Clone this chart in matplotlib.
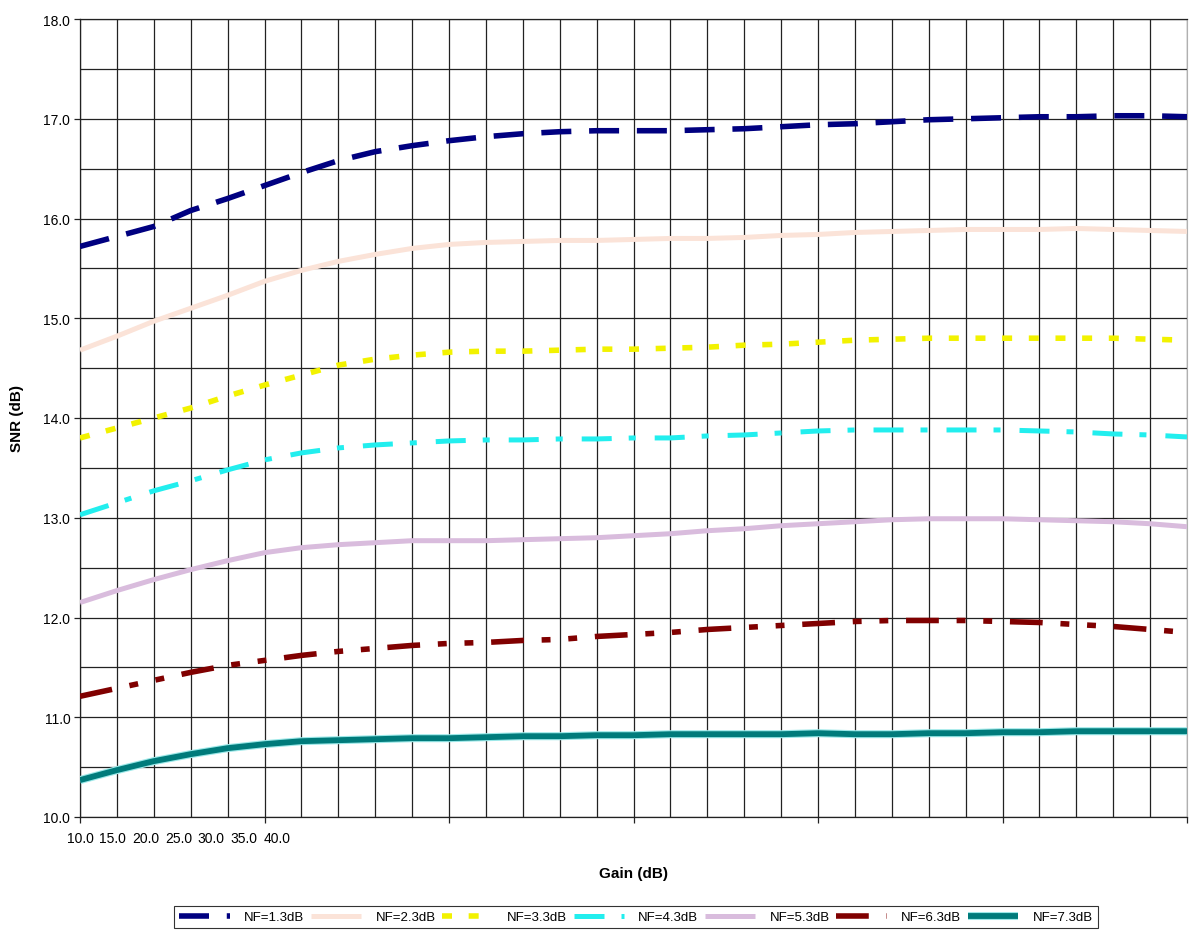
import numpy as np
import matplotlib
matplotlib.use("Agg")
from matplotlib import pyplot as plt
from matplotlib import patheffects as pe

plt.rcParams['font.family'] = ['Liberation Sans', 'DejaVu Sans']

# gain categories (only the first seven carry a label in the original)
gain = [10.0 + 5.0 * i for i in range(31)]
gain_labels = ["10.0", "15.0", "20.0", "25.0", "30.0", "35.0", "40.0"]

# SNR (dB), one list per noise figure
nf_1_3 = [15.72, 15.82, 15.92, 16.08, 16.20, 16.33, 16.46, 16.58, 16.67, 16.73, 16.78,
          16.82, 16.85, 16.87, 16.88, 16.88, 16.88, 16.89, 16.90, 16.92, 16.94,
          16.95, 16.97, 16.99, 17.00, 17.01, 17.02, 17.02, 17.03, 17.03, 17.02]
nf_2_3 = [14.68, 14.82, 14.97, 15.10, 15.23, 15.37, 15.48, 15.57, 15.64, 15.70, 15.74,
          15.76, 15.77, 15.78, 15.78, 15.79, 15.80, 15.80, 15.81, 15.83, 15.84,
          15.86, 15.87, 15.88, 15.89, 15.89, 15.89, 15.90, 15.89, 15.88, 15.87]
nf_3_3 = [13.80, 13.90, 14.00, 14.10, 14.22, 14.33, 14.43, 14.53, 14.59, 14.63, 14.66,
          14.67, 14.67, 14.68, 14.69, 14.69, 14.70, 14.71, 14.73, 14.74, 14.76,
          14.78, 14.79, 14.80, 14.80, 14.80, 14.80, 14.80, 14.80, 14.79, 14.78]
nf_4_3 = [13.03, 13.15, 13.27, 13.37, 13.48, 13.58, 13.65, 13.70, 13.73, 13.75, 13.77,
          13.78, 13.78, 13.79, 13.79, 13.80, 13.80, 13.82, 13.83, 13.85, 13.87,
          13.88, 13.88, 13.88, 13.88, 13.88, 13.87, 13.86, 13.84, 13.83, 13.81]
nf_5_3 = [12.15, 12.27, 12.38, 12.48, 12.57, 12.65, 12.70, 12.73, 12.75, 12.77, 12.77,
          12.77, 12.78, 12.79, 12.80, 12.82, 12.84, 12.87, 12.89, 12.92, 12.94,
          12.96, 12.98, 12.99, 12.99, 12.99, 12.98, 12.97, 12.96, 12.94, 12.91]
nf_6_3 = [11.21, 11.29, 11.37, 11.45, 11.52, 11.57, 11.62, 11.66, 11.69, 11.72, 11.74,
          11.75, 11.77, 11.78, 11.81, 11.83, 11.85, 11.88, 11.90, 11.92, 11.94,
          11.96, 11.97, 11.97, 11.97, 11.96, 11.95, 11.93, 11.91, 11.88, 11.85]
nf_7_3 = [10.37, 10.47, 10.56, 10.63, 10.69, 10.73, 10.76, 10.77, 10.78, 10.79, 10.79,
          10.80, 10.81, 10.81, 10.82, 10.82, 10.83, 10.83, 10.83, 10.83, 10.84,
          10.83, 10.83, 10.84, 10.84, 10.85, 10.85, 10.86, 10.86, 10.86, 10.86]

series = [
    ("NF=1.3dB", nf_1_3, "#000080", 4.0, (0, (5.4, 3.2))),
    ("NF=2.3dB", nf_2_3, "#FBE3D8", 3.6, "-"),
    ("NF=3.3dB", nf_3_3, "#F2F200", 4.0, (0, (1.8, 3.0))),
    ("NF=4.3dB", nf_4_3, "#22EEEE", 3.6, (0, (6.0, 3.4, 1.4, 3.8))),
    ("NF=5.3dB", nf_5_3, "#D9BCDD", 3.6, "-"),
    ("NF=6.3dB", nf_6_3, "#800000", 4.0, (0, (5.9, 3.2, 1.6, 3.2, 1.6, 3.2))),
    ("NF=7.3dB", nf_7_3, "#007B7B", 4.2, "-"),
]

x = np.arange(len(gain))

fig = plt.figure(figsize=(11.95, 9.37), dpi=100)
ax = fig.add_axes([80 / 1195, 1 - 818 / 937, (1187 - 80) / 1195, (818 - 20) / 937])

for name, vals, col, lw, ls in series:
    line, = ax.plot(x, vals, color=col, lw=lw, linestyle=ls, label=name,
                    solid_capstyle="butt", dash_capstyle="butt", zorder=3)
    if name == "NF=7.3dB":
        # the teal curve has a pale cyan fringe in the original
        line.set_path_effects([pe.Stroke(linewidth=lw + 1.6, foreground="#9be8e8"),
                               pe.Normal()])

ax.set_xlim(0, len(gain) - 1)
ax.set_ylim(10, 18)

# grid: every category / every 0.5 dB
ax.set_xticks(x, minor=True)
ax.set_xticks(np.arange(0, len(gain), 5))
ax.set_xticklabels([])
ax.set_yticks(np.arange(10, 18.01, 0.5), minor=True)
ax.set_yticks(np.arange(10, 18.01, 1.0))
ax.set_yticklabels([f"{v:.1f}" for v in np.arange(10, 18.01, 1.0)], fontsize=10)
ax.grid(True, which="both", color="#222222", lw=0.9, zorder=1)
ax.tick_params(axis="both", which="minor", length=0)
ax.tick_params(axis="both", which="major", length=4, width=0.9, color="#222222",
               direction="out", pad=3)

# crowded category labels, as in the original
sec = ax.secondary_xaxis("bottom")
sec.set_xticks([i * 0.89 for i in range(len(gain_labels))], gain_labels, fontsize=10)
sec.tick_params(length=0, pad=10)
sec.spines["bottom"].set_visible(False)

for s in ["left", "bottom", "top"]:
    ax.spines[s].set_color("#222222")
    ax.spines[s].set_linewidth(0.9)
ax.spines["right"].set_color("#b0b0b0")

ax.set_ylabel("SNR (dB)", fontsize=11, fontweight="bold", labelpad=14)
ax.set_xlabel("Gain (dB)", fontsize=11, fontweight="bold", labelpad=28)

leg = fig.legend(loc="center", bbox_to_anchor=(636 / 1195, 1 - 918 / 937), ncol=7,
                 fontsize=9.5, frameon=True, fancybox=False, edgecolor="black",
                 handlelength=3.8, handletextpad=1.1, columnspacing=0.5,
                 borderpad=0.4)
leg.get_frame().set_linewidth(0.8)

fig.savefig("out.png", dpi=100, facecolor="white")
